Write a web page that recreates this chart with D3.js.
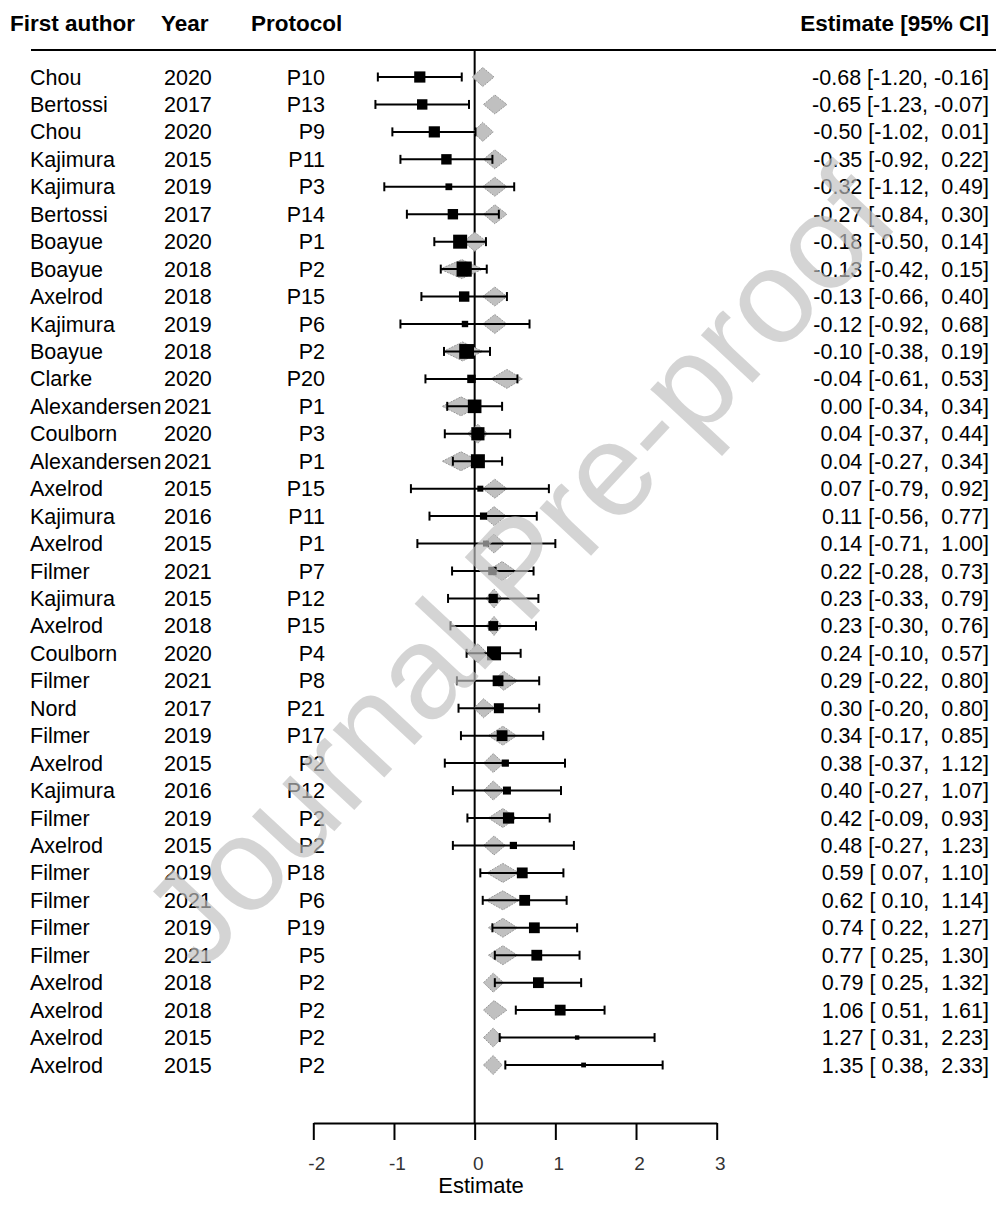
<!DOCTYPE html>
<html><head><meta charset="utf-8">
<script src="https://cdn.jsdelivr.net/npm/d3@7"></script>
<style>
html,body{margin:0;padding:0;background:#fff;}
text{font-family:"Liberation Sans",Arial,Helvetica,sans-serif;}
</style></head>
<body>
<svg id="chart" width="996" height="1205"></svg>
<script>
const authors = ["Chou","Bertossi","Chou","Kajimura","Kajimura","Bertossi","Boayue","Boayue","Axelrod","Kajimura","Boayue","Clarke","Alexandersen","Coulborn","Alexandersen","Axelrod","Kajimura","Axelrod","Filmer","Kajimura","Axelrod","Coulborn","Filmer","Nord","Filmer","Axelrod","Kajimura","Filmer","Axelrod","Filmer","Filmer","Filmer","Filmer","Axelrod","Axelrod","Axelrod","Axelrod"];
const years = ["2020","2017","2020","2015","2019","2017","2020","2018","2018","2019","2018","2020","2021","2020","2021","2015","2016","2015","2021","2015","2018","2020","2021","2017","2019","2015","2016","2019","2015","2019","2021","2019","2021","2018","2018","2015","2015"];
const protocols = ["P10","P13","P9","P11","P3","P14","P1","P2","P15","P6","P2","P20","P1","P3","P1","P15","P11","P1","P7","P12","P15","P4","P8","P21","P17","P2","P12","P2","P2","P18","P6","P19","P5","P2","P2","P2","P2"];
const estimates = [-0.68,-0.65,-0.50,-0.35,-0.32,-0.27,-0.18,-0.13,-0.13,-0.12,-0.10,-0.04,0.00,0.04,0.04,0.07,0.11,0.14,0.22,0.23,0.23,0.24,0.29,0.30,0.34,0.38,0.40,0.42,0.48,0.59,0.62,0.74,0.77,0.79,1.06,1.27,1.35];
const lowerCI = [-1.20,-1.23,-1.02,-0.92,-1.12,-0.84,-0.50,-0.42,-0.66,-0.92,-0.38,-0.61,-0.34,-0.37,-0.27,-0.79,-0.56,-0.71,-0.28,-0.33,-0.30,-0.10,-0.22,-0.20,-0.17,-0.37,-0.27,-0.09,-0.27,0.07,0.10,0.22,0.25,0.25,0.51,0.31,0.38];
const upperCI = [-0.16,-0.07,0.01,0.22,0.49,0.30,0.14,0.15,0.40,0.68,0.19,0.53,0.34,0.44,0.34,0.92,0.77,1.00,0.73,0.79,0.76,0.57,0.80,0.80,0.85,1.12,1.07,0.93,1.23,1.10,1.14,1.27,1.30,1.32,1.61,2.23,2.33];
// fitted values (grey diamonds)
const fitEst = [0.10,0.25,0.10,0.25,0.25,0.25,0.00,-0.16,0.25,0.25,-0.15,0.40,-0.17,0.04,-0.17,0.25,0.24,0.24,0.34,0.24,0.24,0.04,0.36,0.11,0.35,0.23,0.23,0.35,0.24,0.35,0.35,0.35,0.35,0.23,0.24,0.23,0.23];
const fitLower = [-0.03,0.11,-0.02,0.11,0.10,0.11,-0.14,-0.43,0.10,0.10,-0.39,0.20,-0.40,-0.09,-0.40,0.10,0.10,0.11,0.16,0.14,0.14,-0.09,0.22,-0.01,0.17,0.11,0.11,0.17,0.11,0.15,0.14,0.17,0.17,0.11,0.11,0.11,0.11];
const fitUpper = [0.24,0.40,0.23,0.40,0.40,0.40,0.15,0.10,0.40,0.40,0.10,0.59,0.06,0.16,0.06,0.40,0.39,0.37,0.51,0.34,0.34,0.16,0.53,0.25,0.52,0.36,0.36,0.52,0.38,0.55,0.55,0.53,0.53,0.36,0.40,0.34,0.34];
// relative study weights (%)
const weights = [2.8,2.6,2.8,2.6,1.7,2.6,3.5,3.8,2.6,1.6,3.7,2.1,3.4,3.3,3.5,1.5,1.8,1.5,2.1,2.3,2.4,3.5,2.7,2.5,2.7,1.8,2.0,2.8,1.8,2.7,2.7,2.7,2.7,2.7,2.7,1.1,1.2];
const axisTicks = [-2,-1,0,1,2,3];
const headers = ["First author","Year","Protocol","Estimate [95% CI]"];
const xLabel = "Estimate";
const watermark = "Journal Pre-proof";

const n = estimates.length;
const rows = d3.range(n).map(i => ({
  author: authors[i], year: years[i], protocol: protocols[i],
  est: estimates[i], lo: lowerCI[i], hi: upperCI[i],
  fe: fitEst[i], fl: fitLower[i], fu: fitUpper[i], w: weights[i], i
}));

const svg = d3.select("#chart");
svg.append("rect").attr("width",996).attr("height",1205).attr("fill","#fff");

const x = d3.scaleLinear().domain([-2,3]).range([313.3,716.7]);
const y = d3.scalePoint().domain(d3.range(n)).range([77,1065]);
const size = d3.scaleLinear().domain([1,4]).range([4,16]);
const axisY = 1123, topY = 50;

// headers
const hdr = svg.append("g").attr("font-weight","bold").attr("font-size",22.5).attr("fill","#000");
hdr.append("text").attr("x",10).attr("y",31).text(headers[0]);
hdr.append("text").attr("x",161).attr("y",31).text(headers[1]);
hdr.append("text").attr("x",251).attr("y",31).text(headers[2]);
hdr.append("text").attr("x",989).attr("y",31).attr("text-anchor","end").text(headers[3]);

// top rule
svg.append("line").attr("x1",31).attr("x2",996).attr("y1",topY).attr("y2",topY)
  .attr("stroke","#000").attr("stroke-width",2.2);

// reference line at 0
svg.append("line").attr("x1",x(0)).attr("x2",x(0)).attr("y1",topY).attr("y2",axisY)
  .attr("stroke","#000").attr("stroke-width",2);

// diamonds (fitted values)
const dh = 9.5;
svg.append("g").selectAll("path").data(rows).join("path")
  .attr("d", d => {
    const yy = y(d.i);
    return `M${x(d.fl)},${yy}L${x(d.fe)},${yy-dh}L${x(d.fu)},${yy}L${x(d.fe)},${yy+dh}Z`;
  })
  .attr("fill","#c0c0c0").attr("stroke","#999").attr("stroke-width",1).attr("stroke-dasharray","2,1");

// CIs
const ci = svg.append("g").attr("stroke","#000").attr("stroke-width",2);
ci.selectAll("line.ci").data(rows).join("line").attr("class","ci")
  .attr("x1",d=>x(d.lo)).attr("x2",d=>x(d.hi)).attr("y1",d=>y(d.i)).attr("y2",d=>y(d.i));
ci.selectAll("line.capl").data(rows).join("line").attr("class","capl")
  .attr("x1",d=>x(d.lo)).attr("x2",d=>x(d.lo)).attr("y1",d=>y(d.i)-4.5).attr("y2",d=>y(d.i)+4.5);
ci.selectAll("line.capu").data(rows).join("line").attr("class","capu")
  .attr("x1",d=>x(d.hi)).attr("x2",d=>x(d.hi)).attr("y1",d=>y(d.i)-4.5).attr("y2",d=>y(d.i)+4.5);

// squares
svg.append("g").selectAll("rect").data(rows).join("rect")
  .attr("x",d=>x(d.est)-size(d.w)/2).attr("y",d=>y(d.i)-size(d.w)/2)
  .attr("width",d=>size(d.w)).attr("height",d=>size(d.w)).attr("fill","#000");

// text columns
const fs = 21.5, off = 7.6;
const tg = svg.append("g").attr("font-size",fs).attr("fill","#000");
tg.selectAll("text.a").data(rows).join("text").attr("class","a")
  .attr("x",30).attr("y",d=>y(d.i)+off).text(d=>d.author);
tg.selectAll("text.y").data(rows).join("text").attr("class","y")
  .attr("x",164).attr("y",d=>y(d.i)+off).text(d=>d.year);
tg.selectAll("text.p").data(rows).join("text").attr("class","p")
  .attr("x",325).attr("y",d=>y(d.i)+off).attr("text-anchor","end").text(d=>d.protocol);
const pad = v => (v < 0 ? "" : " ") + v.toFixed(2);
tg.selectAll("text.e").data(rows).join("text").attr("class","e")
  .attr("x",989).attr("y",d=>y(d.i)+off).attr("text-anchor","end")
  .style("white-space","pre").attr("xml:space","preserve")
  .text(d=>`${d.est.toFixed(2)} [${pad(d.lo)}, ${pad(d.hi)}]`);

// axis
const axis = d3.axisBottom(x).tickValues(axisTicks).tickSize(17).tickSizeOuter(0).tickPadding(16.5)
  .tickFormat(d3.format("d"));
const ag = svg.append("g").attr("transform",`translate(0,${axisY})`).call(axis);
ag.select(".domain").attr("stroke","#000").attr("stroke-width",2);
ag.selectAll(".tick line").attr("stroke","#000").attr("stroke-width",2);
ag.selectAll(".tick text").attr("font-size",19).attr("fill","#333")
  .attr("font-family","'Liberation Sans',Arial,sans-serif").attr("dx",3)
  .text(d => d < 0 ? "-" + Math.abs(d) : d);
svg.append("text").attr("x",481).attr("y",1193).attr("text-anchor","middle")
  .attr("font-size",22).attr("fill","#000").text(xLabel);

// watermark
svg.append("text").attr("transform","translate(518,566) rotate(-47)")
  .attr("text-anchor","middle").attr("dy","0.35em")
  .attr("font-size",133).attr("fill","rgb(191,191,191)").attr("fill-opacity",0.67)
  .text(watermark);
</script>
</body></html>
